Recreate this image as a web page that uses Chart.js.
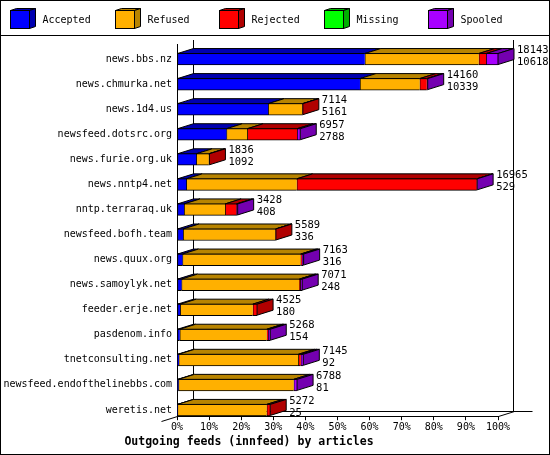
<!DOCTYPE html>
<html>
<head>
<meta charset="utf-8">
<script src="https://cdn.jsdelivr.net/npm/chart.js@4"></script>
<style>
  body { margin: 0; background: #fff; }
  canvas { display: block; }
</style>
</head>
<body>
<canvas id="feedChart" width="550" height="455" style="width:550px;height:455px"></canvas>
<script>
const hosts = ['news.bbs.nz', 'news.chmurka.net', 'news.1d4.us', 'newsfeed.dotsrc.org', 'news.furie.org.uk',
  'news.nntp4.net', 'nntp.terraraq.uk', 'newsfeed.bofh.team', 'news.quux.org', 'news.samoylyk.net',
  'feeder.erje.net', 'pasdenom.info', 'tnetconsulting.net', 'newsfeed.endofthelinebbs.com', 'weretis.net'];
// percent of the biggest feed
const accepted = [58.5, 57.0, 28.4, 15.4, 6.0, 2.9, 2.2, 1.9, 1.7, 1.4, 1.0, 0.85, 0.5, 0.45, 0.14];
const refused = [35.5, 18.6, 10.7, 6.5, 3.9, 34.4, 12.8, 28.8, 36.8, 36.7, 22.6, 27.1, 37.3, 35.9, 27.8];
const rejected = [2.3, 2.2, 0.1, 15.5, 0.2, 56.1, 3.5, 0.1, 0.4, 0.3, 1.35, 0.4, 0.75, 0, 1.1];
const missing = [0, 0, 0, 0, 0, 0, 0, 0, 0, 0, 0, 0, 0, 0, 0];
const spooled = [3.7, 0.3, 0, 1.0, 0, 0.1, 0.4, 0, 0.55, 0.6, 0, 0.7, 0.8, 1.06, 0];
const totalArticles = ['18143', '14160', '7114', '6957', '1836', '16965', '3428', '5589', '7163', '7071', '4525', '5268', '7145', '6788', '5272'];
const acceptedArticles = ['10618', '10339', '5161', '2788', '1092', '529', '408', '336', '316', '248', '180', '154', '92', '81', '25'];
const xTicks = [0, 10, 20, 30, 40, 50, 60, 70, 80, 90, 100];

const front = ['#0000ff', '#ffb000', '#ff0000', '#00ff00', '#a800ff'];
const dark = ['#0000b0', '#b88400', '#b00000', '#00b000', '#7400b0'];
const mono = '"DejaVu Sans Mono", monospace';
const DX = 16, DY = 5;

const series = [
  ['Accepted', accepted], ['Refused', refused], ['Rejected', rejected], ['Missing', missing], ['Spooled', spooled]
];

const datasets = series.map(([label, vals], d) => ({
  label: label,
  data: vals.map((v, i) => ({ x: v, y: i })),
  backgroundColor: front[d],
  borderColor: '#000',
  borderWidth: { top: 1, bottom: 1, left: 1, right: 0 },
  borderSkipped: false,
  barThickness: 12
}));

function poly(ctx, pts, fill) {
  ctx.beginPath();
  ctx.moveTo(pts[0][0], pts[0][1]);
  for (let k = 1; k < pts.length; k++) ctx.lineTo(pts[k][0], pts[k][1]);
  ctx.closePath();
  ctx.fillStyle = fill;
  ctx.fill();
  ctx.stroke();
}

const wall = {
  id: 'wall',
  beforeDatasetsDraw(chart) {
    const { ctx, chartArea: a } = chart;
    const L = Math.round(a.left) + 0.5, R = Math.round(a.right) + 0.5;
    const T = Math.round(a.top), B = Math.round(a.bottom) + 0.5;
    ctx.save();
    ctx.strokeStyle = '#000';
    ctx.lineWidth = 1;
    ctx.beginPath();
    ctx.moveTo(L + DX, T - 4); ctx.lineTo(L + DX, B - DY);
    ctx.moveTo(R + DX - 1, T - 4); ctx.lineTo(R + DX - 1, B - DY);
    ctx.moveTo(L + DX, B - DY); ctx.lineTo(R + 34, B - DY);
    ctx.moveTo(R, B); ctx.lineTo(R + DX, B - DY);
    ctx.moveTo(L - DX, B + DY); ctx.lineTo(L + DX, B - DY);
    ctx.stroke();
    ctx.restore();
  },
  afterDatasetsDraw(chart) {
    const ctx = chart.ctx;
    ctx.save();
    ctx.strokeStyle = '#000';
    ctx.lineWidth = 1;
    hosts.forEach((h, i) => {
      let last = null;
      chart.data.datasets.forEach((ds, d) => {
        const el = chart.getDatasetMeta(d).data[i];
        const p = el.getProps(['x', 'y', 'base', 'height'], true);
        const x0 = Math.min(p.base, p.x), x1 = Math.max(p.base, p.x);
        if (x1 - x0 < 0.05) return;
        const top = p.y - p.height / 2 + 0.5;
        poly(ctx, [[x0, top], [x0 + DX, top - DY], [x1 + DX, top - DY], [x1, top]], dark[d]);
        last = { x1, top, bottom: p.y + p.height / 2 - 0.5, d };
      });
      if (last) {
        poly(ctx, [[last.x1, last.top], [last.x1 + DX, last.top - DY], [last.x1 + DX, last.bottom - DY], [last.x1, last.bottom]], dark[last.d]);
      }
      const endEl = chart.getDatasetMeta(chart.data.datasets.length - 1).data[i];
      const ex = endEl.x + DX + 3, ey = endEl.y;
      ctx.fillStyle = '#000';
      ctx.font = '10.5px ' + mono;
      ctx.textAlign = 'left';
      ctx.textBaseline = 'middle';
      ctx.fillText(totalArticles[i], ex, ey - 9);
      ctx.fillText(acceptedArticles[i], ex, ey + 3);
    });
    ctx.restore();
  },
  afterDraw(chart) {
    const ctx = chart.ctx;
    ctx.save();
    ctx.strokeStyle = '#000';
    ctx.lineWidth = 1;
    ctx.strokeRect(0.5, 0.5, 549, 454);
    ctx.beginPath();
    ctx.moveTo(0, 35.5); ctx.lineTo(550, 35.5);
    ctx.stroke();
    // legend with little cubes
    chart.data.datasets.forEach((ds, d) => {
      const x = 10.5 + Math.round(d * 104.5), y = 10.5;
      poly(ctx, [[x, y], [x + 6, y - 2], [x + 25, y - 2], [x + 19, y]], dark[d]);
      poly(ctx, [[x + 19, y], [x + 25, y - 2], [x + 25, y + 16], [x + 19, y + 18]], dark[d]);
      ctx.fillStyle = front[d];
      ctx.fillRect(x, y, 19, 18);
      ctx.strokeRect(x, y, 19, 18);
      ctx.fillStyle = '#000';
      ctx.font = '10px ' + mono;
      ctx.textAlign = 'left';
      ctx.textBaseline = 'middle';
      ctx.fillText(ds.label, x + 32, 20);
    });
    ctx.restore();
  }
};

new Chart(document.getElementById('feedChart'), {
  type: 'bar',
  data: { datasets: datasets },
  options: {
    indexAxis: 'y',
    responsive: false,
    animation: false,
    layout: { padding: { top: 44, right: 52, left: 0, bottom: 0 } },
    plugins: {
      legend: { display: false },
      tooltip: { enabled: false },
      title: {
        display: true,
        position: 'bottom',
        text: 'Outgoing feeds (innfeed) by articles',
        color: '#000',
        font: { family: mono, size: 11.5, weight: 'bold' },
        padding: { top: 0, bottom: 6 }
      }
    },
    scales: {
      x: {
        type: 'linear',
        stacked: true,
        min: 0,
        max: 100,
        afterBuildTicks: s => { s.ticks = xTicks.map(v => ({ value: v })); },
        ticks: { color: '#000', font: { family: mono, size: 10, lineHeight: 0.5 }, padding: 5, maxRotation: 0, callback: v => v + '%' },
        grid: { display: true, drawOnChartArea: false, drawTicks: true, tickLength: 4, color: '#000' },
        border: { display: true, color: '#000' }
      },
      y: {
        type: 'linear',
        stacked: true,
        reverse: true,
        offset: false,
        min: -0.6,
        max: 14.25,
        afterBuildTicks: s => { s.ticks = hosts.map((h, i) => ({ value: i })); },
        afterFit: s => { s.width = 177; },
        ticks: { color: '#000', font: { family: mono, size: 10 }, padding: 5, callback: v => hosts[v] },
        grid: { display: false, drawTicks: false, offset: false },
        border: { display: true, color: '#000' }
      }
    }
  },
  plugins: [wall]
});
</script>
</body>
</html>
